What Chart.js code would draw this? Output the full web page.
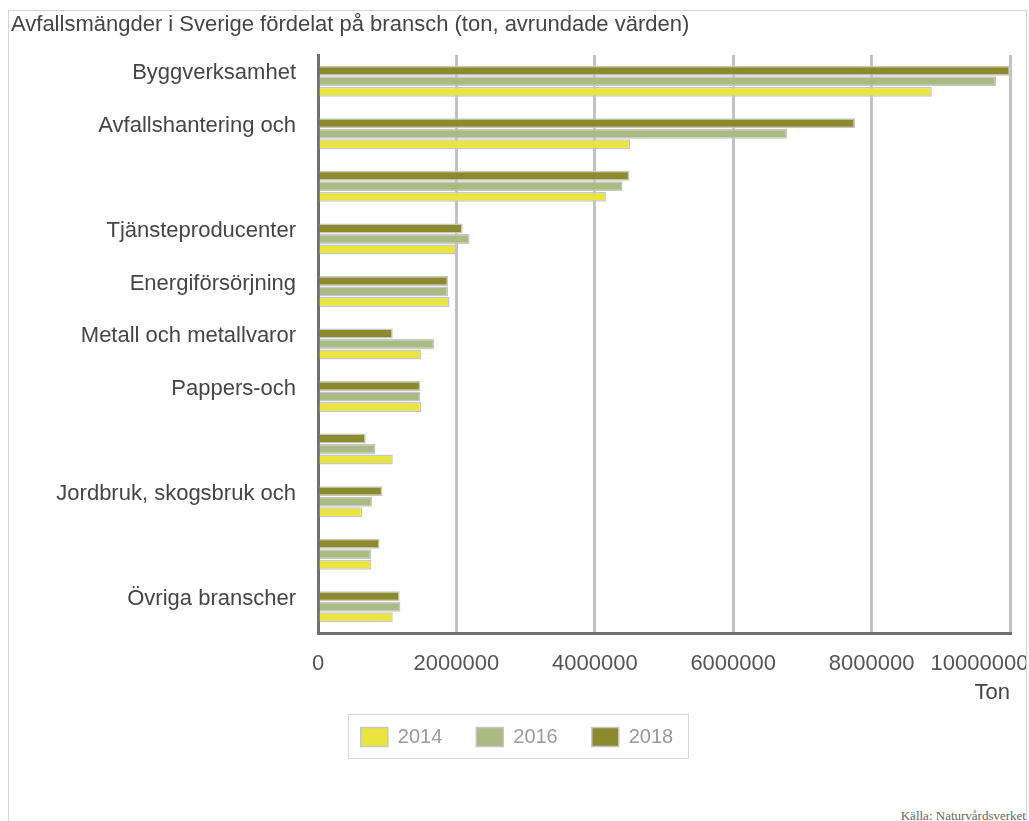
<!DOCTYPE html>
<html lang="sv">
<head>
<meta charset="utf-8">
<title>Avfallsmängder i Sverige</title>
<script src="https://cdn.jsdelivr.net/npm/chart.js@4.4.1/dist/chart.umd.min.js"></script>
<style>
  html, body { margin: 0; padding: 0; background: #fff; overflow: hidden; }
  body { width: 1029px; height: 821px; position: relative; font-family: "Liberation Sans", Arial, sans-serif; }
  #frame { position: absolute; left: 8px; top: 10px; width: 1017px; height: 830px; border: 1px solid #d4d4d4; }
  #chart-box { position: absolute; left: 8px; top: 10px; width: 1018px; height: 757px; }
  #source { position: absolute; right: 3px; top: 808px; font: 13px "Liberation Serif", serif; color: #666; white-space: nowrap; }
</style>
</head>
<body>
<div id="frame"></div>
<div id="chart-box"><canvas id="wasteChart"></canvas></div>
<div id="source">Källa: Naturvårdsverket</div>

<script>
// categories (some labels are cut off in the original, so they stay empty)
const categories = [
  "Byggverksamhet",
  "Avfallshantering och",
  "",
  "Tjänsteproducenter",
  "Energiförsörjning",
  "Metall och metallvaror",
  "Pappers-och",
  "",
  "Jordbruk, skogsbruk och",
  "",
  "Övriga branscher",
];

// ton per year
const values2014 = [8870000, 4510000, 4160000, 1990000, 1900000, 1490000, 1490000, 1080000, 640000, 770000, 1080000];
const values2016 = [9800000, 6780000, 4400000, 2190000, 1880000, 1680000, 1480000, 830000, 780000, 770000, 1190000];
const values2018 = [10000000, 7760000, 4500000, 2090000, 1880000, 1080000, 1480000, 690000, 930000, 890000, 1180000];

const xTickValues = [0, 2000000, 4000000, 6000000, 8000000, 10000000];

const chartTitle = "Avfallsmängder i Sverige fördelat på bransch (ton, avrundade värden)";
const axisTitle = "Ton";

const colors = {
  y2014: "#e9e43e",
  y2016: "#a9bb82",
  y2018: "#8c8a2d",
  barBorder: "#c6c6c6",
  grid: "#c2c2c2",
  axis: "#707070",
  text: "#454545",
  legendText: "#9a9a9a",
};

// legend sits a little right of the canvas centre in the original
const legendShift = {
  id: "legendShift",
  afterLayout(chart) {
    const lg = chart.legend;
    if (!lg) return;
    lg.left += 6.5;
    lg.right += 6.5;
  },
};

// draws the thin box round the legend
const legendFrame = {
  id: "legendFrame",
  afterDraw(chart) {
    const boxes = chart.legend && chart.legend.legendHitBoxes;
    if (!boxes || !boxes.length) return;
    const first = boxes[0];
    const last = boxes[boxes.length - 1];
    const mid = first.top + first.height / 2;
    const left = first.left - 13;
    const right = last.left + last.width + 15;
    const ctx = chart.ctx;
    ctx.save();
    ctx.strokeStyle = "#d6d6d6";
    ctx.lineWidth = 1;
    ctx.strokeRect(Math.round(left) + 0.5, Math.round(mid - 23) + 0.5, Math.round(right - left), 44);
    ctx.restore();
  },
};

function makeDataset(label, data, color) {
  return {
    label: label,
    data: data,
    backgroundColor: color,
    borderColor: colors.barBorder,
    borderWidth: 1.5,
    categoryPercentage: 0.6,
    barPercentage: 0.95,
  };
}

const ctx = document.getElementById("wasteChart");

new Chart(ctx, {
  type: "bar",
  data: {
    labels: categories,
    // top bar in each group is 2018, so it goes first
    datasets: [
      makeDataset("2018", values2018, colors.y2018),
      makeDataset("2016", values2016, colors.y2016),
      makeDataset("2014", values2014, colors.y2014),
    ],
  },
  options: {
    indexAxis: "y",
    responsive: true,
    maintainAspectRatio: false,
    animation: false,
    layout: { padding: { left: 3, right: 16, top: 0, bottom: 10 } },
    plugins: {
      title: {
        display: true,
        text: chartTitle,
        align: "start",
        color: colors.text,
        font: { family: "Liberation Sans", size: 22, weight: "normal" },
        padding: { top: 2, bottom: 16.6 },
      },
      legend: {
        position: "bottom",
        reverse: true,
        labels: {
          color: colors.legendText,
          font: { family: "Liberation Sans", size: 20 },
          boxWidth: 27,
          boxHeight: 19,
          padding: 34,
        },
      },
      tooltip: { enabled: false },
    },
    scales: {
      x: {
        min: 0,
        max: 10000000,
        afterBuildTicks: (scale) => {
          scale.ticks = xTickValues.map((v) => ({ value: v }));
        },
        afterFit: (scale) => {
          scale.paddingRight = 0;
          scale.height = 60;
        },
        grid: {
          color: colors.grid,
          lineWidth: 3,
          drawTicks: false,
        },
        border: { display: true, color: colors.axis, width: 3 },
        ticks: {
          color: "#555",
          font: { family: "Liberation Sans", size: 22 },
          padding: 18,
          maxRotation: 0,
          autoSkip: false,
          callback: function (value, index, ticks) {
            // last label is pushed left so it stays inside the frame
            if (index === ticks.length - 1) return String(value) + "          ";
            return String(value);
          },
        },
        title: {
          display: true,
          text: axisTitle,
          align: "end",
          color: colors.text,
          font: { family: "Liberation Sans", size: 22 },
          padding: { top: 6, bottom: -13 },
        },
      },
      y: {
        afterFit: (scale) => {
          scale.width = 307;
        },
        grid: { display: false, drawTicks: false },
        border: { display: true, color: colors.axis, width: 3 },
        ticks: {
          color: colors.text,
          font: { family: "Liberation Sans", size: 22 },
          padding: 22,
          labelOffset: -8,
          autoSkip: false,
        },
      },
    },
  },
  plugins: [legendShift, legendFrame],
});
</script>
</body>
</html>
